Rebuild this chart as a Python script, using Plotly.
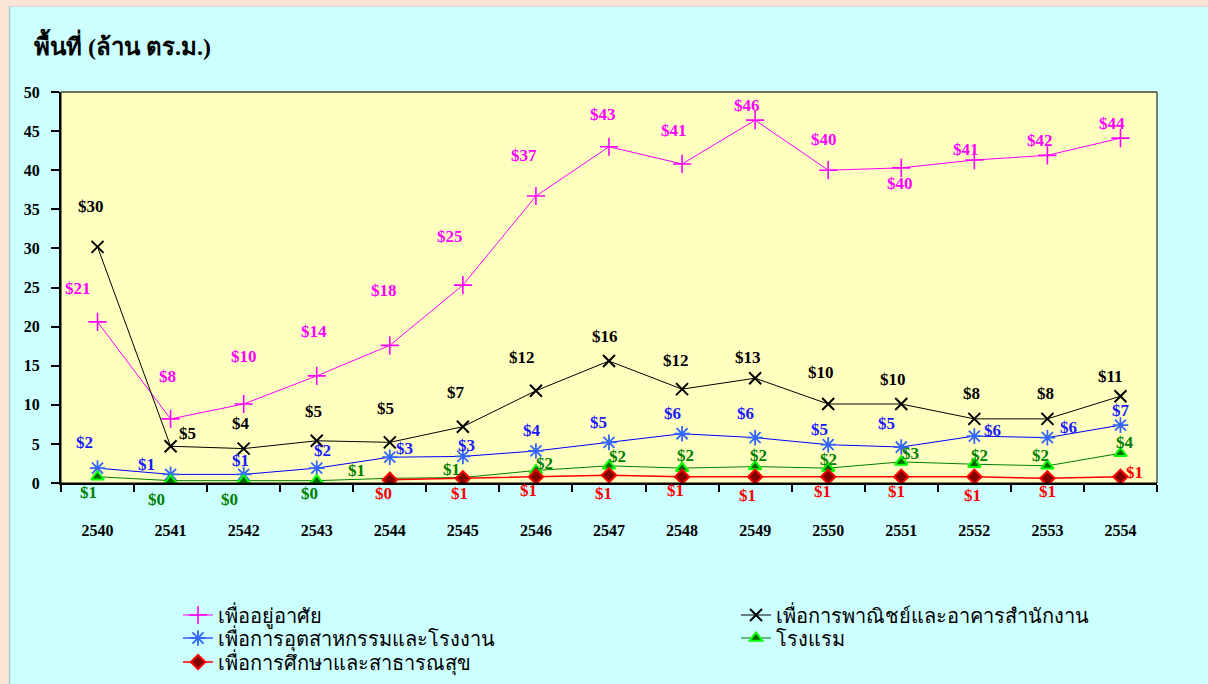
import plotly.graph_objects as go

# Buddhist-era years
years = ['2540', '2541', '2542', '2543', '2544', '2545', '2546', '2547',
         '2548', '2549', '2550', '2551', '2552', '2553', '2554']

residential = [20.6, 8.2, 10.1, 13.7, 17.6, 25.3, 36.7, 43.0, 40.8, 46.4, 40.0, 40.3, 41.3, 41.9, 44.1]
commercial = [30.2, 4.7, 4.4, 5.4, 5.2, 7.2, 11.8, 15.6, 12.0, 13.4, 10.1, 10.1, 8.2, 8.2, 11.1]
industrial = [1.9, 1.1, 1.1, 1.9, 3.3, 3.4, 4.1, 5.2, 6.3, 5.8, 4.9, 4.6, 6.0, 5.8, 7.4]
hotels = [0.8, 0.3, 0.3, 0.3, 0.6, 0.7, 1.6, 2.2, 1.9, 2.1, 1.9, 2.7, 2.4, 2.2, 3.8]
education = [None, None, None, None, 0.4, 0.6, 0.8, 1.0, 0.8, 0.8, 0.8, 0.8, 0.8, 0.6, 0.8]

names = ['เพื่ออยู่อาศัย', 'เพื่อการพาณิชย์และอาคารสำนักงาน', 'เพื่อการอุตสาหกรรมและโรงงาน',
         'โรงแรม', 'เพื่อการศึกษาและสาธารณสุข']

# label offsets (px) relative to each point, as hand-placed in the original
label_offsets = {
    'res': [(-20, -33), (-3, -42), (0, -48), (-3, -44), (-6, -55), (-13, -49), (-12, -41), (-6, -32),
            (-8, -33), (-8, -15), (-4, -31), (-1, 16), (-8, -11), (-7, -15), (-8, -15)],
    'com': [(-7, -40), (17, -13), (-3, -25), (-3, -29), (-4, -34), (-7, -34), (-14, -33), (-4, -25),
            (-6, -29), (-7, -21), (-7, -32), (-8, -25), (-3, -25), (-2, -25), (-10, -20)],
    'ind': [(-13, -26), (-24, -10), (-3, -14), (6, -18), (15, -9), (4, -11), (-4, -20), (-11, -20),
            (-10, -20), (-10, -24), (-9, -15), (-15, -24), (18, -6), (21, -10), (1, -15)],
    'hot': [(-9, 16), (-14, 19), (-14, 19), (-7, 13), (-33, -8), (-11, -8), (9, -7), (8, -9),
            (3, -13), (3, -11), (0, -9), (9, -8), (5, -9), (-7, -10), (5, -11)],
    'edu': [None, None, None, None, (-6, 14), (-3, 15), (-7, 14), (-6, 18), (-7, 14), (-8, 19),
            (-6, 15), (-5, 15), (-2, 19), (0, 13), (14, -4)],
}

SERIF = 'Liberation Serif, Times New Roman, serif'


def fmt(v):
    return '<b>&#36;%d</b>' % int(v + 0.5)


fig = go.Figure()

# (key, values, line, marker, label colour, legend id)
series = [
    ('res', residential, dict(color='#FF00FF', width=1),
     dict(symbol='cross-thin', size=13, line=dict(color='#FF00FF', width=1.6)), '#FF00FF', 'legend'),
    ('com', commercial, dict(color='#000000', width=1),
     dict(symbol='x-thin', size=12, line=dict(color='#000000', width=2)), '#000000', 'legend2'),
    ('ind', industrial, dict(color='#0000FF', width=1),
     dict(symbol='asterisk', size=13, line=dict(color='#3366FF', width=1.8)), '#1A1AFF', 'legend3'),
    ('hot', hotels, dict(color='#008000', width=1),
     dict(symbol='triangle-up', size=11, color='#006400', line=dict(color='#00FF00', width=2)), '#008000', 'legend4'),
    ('edu', education, dict(color='#FF0000', width=1.5),
     dict(symbol='diamond', size=11, color='#800000', line=dict(color='#FF0000', width=2)), '#FF0000', 'legend5'),
]

for (key, vals, line, marker, lblcol, leg), name in zip(series, names):
    fig.add_trace(go.Scatter(x=years, y=vals, name=name, mode='lines+markers',
                             line=line, marker=marker, connectgaps=False, legend=leg))
    for i, (v, off) in enumerate(zip(vals, label_offsets[key])):
        if v is None:
            continue
        # x given as category index
        fig.add_annotation(x=i, y=v, xref='x', yref='y', text=fmt(v), showarrow=False,
                           xshift=off[0], yshift=-off[1],
                           font=dict(family=SERIF, size=17, color=lblcol))

# plot area spans x 61..1157, y 92..483 of the 1208x684 page
px0, px1, py0, py1 = 61, 1157, 92, 483


def xp(px):
    return (px - px0) / (px1 - px0)


def yp(py):
    return (py1 - py) / (py1 - py0)


shapes = [
    dict(type='rect', xref='paper', yref='paper', x0=xp(-5), x1=xp(9), y0=yp(700), y1=yp(-5),
         fillcolor='#FBE3D6', line=dict(width=0), layer='below'),
    dict(type='rect', xref='paper', yref='paper', x0=xp(-5), x1=xp(1215), y0=yp(6), y1=yp(-5),
         fillcolor='#FBE3D6', line=dict(width=0), layer='below'),
    dict(type='line', xref='paper', yref='paper', x0=xp(9.5), x1=xp(9.5), y0=yp(6), y1=yp(700),
         line=dict(color='#A8CACA', width=1.5), layer='below'),
    dict(type='line', xref='paper', yref='paper', x0=xp(9.5), x1=xp(1215), y0=yp(6.5), y1=yp(6.5),
         line=dict(color='#D8D8D8', width=1), layer='below'),
    # thin frame round the plot area
    dict(type='rect', xref='paper', yref='paper', x0=0, x1=1, y0=0, y1=1,
         line=dict(color='#000000', width=1), layer='above'),
    dict(type='line', xref='paper', yref='paper', x0=0, x1=1, y0=1, y1=1,
         line=dict(color='#6E6E50', width=1.5), layer='above'),
]

legend_style = dict(xref='container', yref='container', xanchor='left', yanchor='middle',
                    bgcolor='rgba(0,0,0,0)', font=dict(size=20, color='#000000'),
                    orientation='v')

# one legend per entry: two columns, three rows
col1, col2 = 178, 736
row1, row2, row3 = 615, 638, 662

fig.update_layout(
    width=1208, height=684,
    margin=dict(l=px0, r=1208 - px1, t=py0, b=684 - py1, autoexpand=False),
    paper_bgcolor='#CCFFFF',
    plot_bgcolor='#FFFFC0',
    font=dict(family=SERIF, color='#000000'),
    title=dict(text='พื้นที่ (ล้าน ตร.ม.)', xref='container', yref='container',
               x=34 / 1208, y=1 - 47 / 684, xanchor='left', yanchor='middle',
               font=dict(family=SERIF, size=24, color='#000000', weight='bold')),
    xaxis=dict(type='category', range=[-0.5, 14.5], tickson='boundaries', ticks='outside',
               ticklen=7, tickwidth=1.5, tickcolor='#000000', showline=True, linecolor='#000000',
               linewidth=2, showgrid=False, zeroline=False, ticklabelstandoff=32,
               tickfont=dict(family=SERIF, size=16, color='#000000', weight='bold')),
    yaxis=dict(range=[0, 50], dtick=5, ticks='outside', ticklen=8, tickwidth=1.5,
               tickcolor='#000000', showline=True, linecolor='#000000', linewidth=2,
               showgrid=False, zeroline=False, ticklabelstandoff=8,
               tickfont=dict(family=SERIF, size=16, color='#000000', weight='bold')),
    legend=dict(x=col1 / 1208, y=1 - row1 / 684, **legend_style),
    legend2=dict(x=col2 / 1208, y=1 - row1 / 684, **legend_style),
    legend3=dict(x=col1 / 1208, y=1 - row2 / 684, **legend_style),
    legend4=dict(x=col2 / 1208, y=1 - row2 / 684, **legend_style),
    legend5=dict(x=col1 / 1208, y=1 - row3 / 684, **legend_style),
    shapes=shapes,
    showlegend=True,
)

fig.write_html('out.html', config={'displayModeBar': False},
               post_script="document.body.style.margin='0';")
